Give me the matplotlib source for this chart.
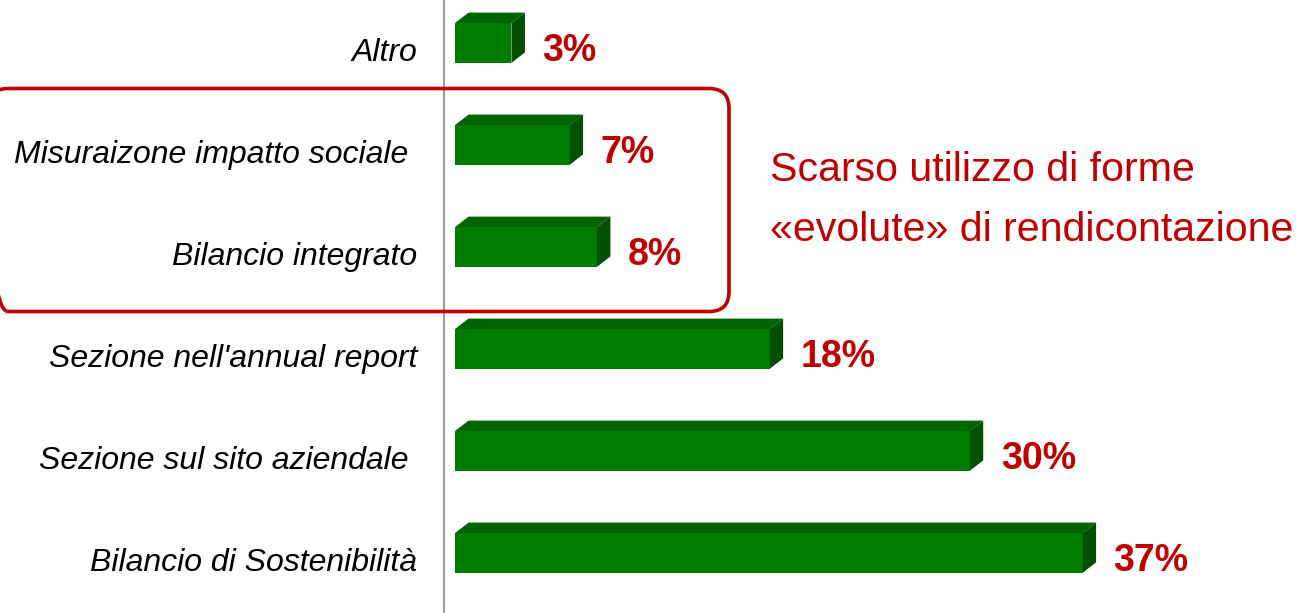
import matplotlib.pyplot as plt
from matplotlib.patches import Polygon, FancyBboxPatch

# data (bottom to top); bar lengths, labels as printed
categories = ["Bilancio di Sostenibilità", "Sezione sul sito aziendale ",
              "Sezione nell'annual report", "Bilancio integrato",
              "Misuraizone impatto sociale ", "Altro"]
values = [36.7, 30.1, 18.4, 8.3, 6.7, 3.3]
value_labels = ["37%", "30%", "18%", "8%", "7%", "3%"]
note_lines = ["Scarso utilizzo di forme", "«evolute» di rendicontazione"]

plt.rcParams['font.family'] = ['Liberation Sans', 'DejaVu Sans']

RED = '#c00000'
FRONT, TOP, SIDE = '#007c00', '#006400', '#005000'

fig = plt.figure(figsize=(13.16, 6.13), dpi=100)
ax = fig.add_axes([0, 0, 1, 1])
px_x = 17.1   # pixels per percent
px_y = 102.0  # pixels per category
ax.set_xlim(-455 / px_x, (1316 - 455) / px_x)
ax.set_ylim((553 - 613) / px_y, 553 / px_y)
ax.axis('off')

# vertical axis line
ax.axvline(-11.5 / px_x, color='#a0a0a0', lw=1.6, zorder=1)

h = 0.39
dx = 13.5 / px_x
dy = 10.5 / px_y
ypos = list(range(len(values)))

# 3d-looking bars: front face from barh, top and side faces as polygons
ax.barh(ypos, values, height=h, color=FRONT, zorder=3)
for y, v in zip(ypos, values):
    t = y + h / 2
    b = y - h / 2
    ax.add_patch(Polygon([(0, t), (dx, t + dy), (v + dx, t + dy), (v, t)],
                         closed=True, color=TOP, zorder=3, lw=0))
    ax.add_patch(Polygon([(v, b), (v, t), (v + dx, t + dy), (v + dx, b + dy)],
                         closed=True, color=SIDE, zorder=3, lw=0))

for y, v, lab, cat in zip(ypos, values, value_labels, categories):
    base = y - h / 2 + 0.02
    ax.text(v + 31 / px_x, base, lab, ha='left', va='baseline',
            fontsize=27, fontweight='bold', color=RED)
    ax.text(-38 / px_x, base, cat, ha='right', va='baseline',
            fontsize=23, style='italic', color='black')

# highlight box around the two "evolved" forms
x0 = -12 / px_x - 455 / px_x
x1 = (729 - 455) / px_x
y_top = (553 - 88.5) / px_y
y_bot = (553 - 311.5) / px_y
box = FancyBboxPatch((x0, y_bot), x1 - x0, y_top - y_bot,
                     boxstyle='round,pad=0,rounding_size=%f' % (20 / px_x),
                     mutation_aspect=px_x / px_y,
                     fill=False, ec=RED, lw=2.6, zorder=4, clip_on=False)
ax.add_patch(box)

nx = (770 - 455) / px_x
ax.text(nx, (553 - 181) / px_y, note_lines[0], ha='left', va='baseline',
        fontsize=29.6, color=RED)
ax.text(nx, (553 - 241) / px_y, note_lines[1], ha='left', va='baseline',
        fontsize=29.6, color=RED)

fig.savefig('out.png', dpi=100)
